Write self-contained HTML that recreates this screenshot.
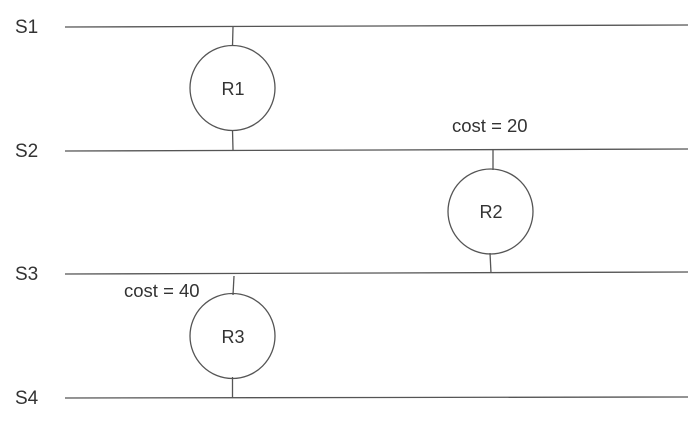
<!DOCTYPE html>
<html><head><meta charset="utf-8"><style>
html,body{margin:0;padding:0;background:#fff;}
svg{display:block;}
text{font-family:"Liberation Sans",Arial,sans-serif;fill:#333;}
</style></head><body>
<svg width="699" height="424" viewBox="0 0 699 424" xmlns="http://www.w3.org/2000/svg">
<g stroke="#555" stroke-width="1.3" fill="none">
<line x1="65" y1="27" x2="688" y2="25"/>
<line x1="65" y1="151" x2="688" y2="149"/>
<line x1="65" y1="274" x2="688" y2="272"/>
<line x1="65" y1="398" x2="688" y2="397"/>
<line x1="233" y1="27" x2="232.5" y2="46"/>
<line x1="232.5" y1="130" x2="233" y2="150"/>
<circle cx="232.5" cy="88" r="42.5"/>
<line x1="493" y1="149" x2="493" y2="170"/>
<line x1="490" y1="253" x2="491" y2="273"/>
<circle cx="490.5" cy="211.5" r="42.5"/>
<line x1="234" y1="276" x2="233" y2="295"/>
<line x1="232.5" y1="377" x2="232.5" y2="398"/>
<circle cx="232.5" cy="336" r="42.5"/>
</g>
<g font-size="19">
<text x="15" y="33">S1</text>
<text x="15" y="157">S2</text>
<text x="15" y="280">S3</text>
<text x="15" y="404">S4</text>
</g>
<g font-size="18" text-anchor="middle">
<text x="233" y="95">R1</text>
<text x="491" y="218">R2</text>
<text x="233" y="343">R3</text>
</g>
<g font-size="18.5">
<text x="452" y="132">cost = 20</text>
<text x="124" y="297">cost = 40</text>
</g>
</svg>
</body></html>
